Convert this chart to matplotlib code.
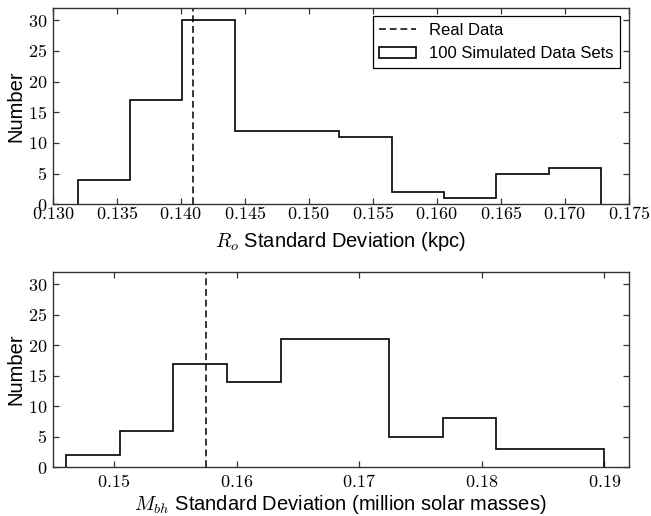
import matplotlib
matplotlib.use("Agg")
import matplotlib.pyplot as plt
from matplotlib.ticker import FuncFormatter, MultipleLocator
import numpy as np

plt.rcParams['mathtext.fontset'] = 'cm'
plt.rcParams['font.family'] = ['Liberation Sans', 'DejaVu Sans']

# Top panel: R_o standard deviation histogram
ro_edges = [0.13194, 0.13603, 0.14012, 0.14421, 0.14830, 0.15239,
            0.15648, 0.16058, 0.16467, 0.16876, 0.17286]
ro_counts = [4, 17, 30, 12, 12, 11, 2, 1, 5, 6]
ro_real = 0.14094

# Bottom panel: M_bh standard deviation histogram
mbh_edges = [0.14606, 0.15045, 0.15485, 0.15924, 0.16364, 0.16803,
             0.17242, 0.17682, 0.18121, 0.18561, 0.19000]
mbh_counts = [2, 6, 17, 14, 21, 21, 5, 8, 3, 3]
mbh_real = 0.15749

fig = plt.figure(figsize=(6.51, 5.16), dpi=100)
ax1 = fig.add_axes([0.081, 0.604, 0.8847, 0.3805])
ax2 = fig.add_axes([0.081, 0.0944, 0.8847, 0.3785])

def draw(ax, edges, counts, real, xlim, xmajor, fmt, xlabel, legend, xpad, lpad):
    edges = np.asarray(edges)
    centers = 0.5 * (edges[:-1] + edges[1:])
    ax.axvline(real, color='black', lw=1.1, dashes=(4.5, 2.5), label='Real Data')
    ax.hist(centers, bins=edges, weights=counts, histtype='step',
            color='black', lw=1.2, label='100 Simulated Data Sets')
    ax.set_xlim(*xlim)
    ax.set_ylim(0, 32)
    ax.xaxis.set_major_locator(MultipleLocator(xmajor))
    ax.yaxis.set_major_locator(MultipleLocator(5))
    ax.xaxis.set_major_formatter(FuncFormatter(lambda v, p: '$' + (fmt % v) + '$'))
    ax.yaxis.set_major_formatter(FuncFormatter(lambda v, p: '$%d$' % round(v)))
    ax.tick_params(direction='in', top=True, right=True, length=4.5,
                   width=0.9, labelsize=13, color='#333333')
    ax.tick_params(axis='x', pad=xpad)
    ax.tick_params(axis='y', pad=4)
    for s in ax.spines.values():
        s.set_color('#333333')
        s.set_linewidth(1.0)
    ax.set_ylabel('Number', fontsize=14.5, labelpad=2)
    ax.set_xlabel(xlabel, fontsize=14.5, labelpad=lpad)
    if legend:
        leg = ax.legend(loc='upper right', fontsize=12, fancybox=False,
                        framealpha=1, edgecolor='black', borderaxespad=0.5,
                        handlelength=2.2)
        leg.get_frame().set_linewidth(0.9)

draw(ax1, ro_edges, ro_counts, ro_real, (0.130, 0.175), 0.005, '%.3f',
     r'$R_o$ Standard Deviation (kpc)', True, 1, 5)
draw(ax2, mbh_edges, mbh_counts, mbh_real, (0.145, 0.192), 0.01, '%.2f',
     r'$M_{bh}$ Standard Deviation (million solar masses)', False, 5, 1.5)

fig.savefig('out.png', dpi=100)
